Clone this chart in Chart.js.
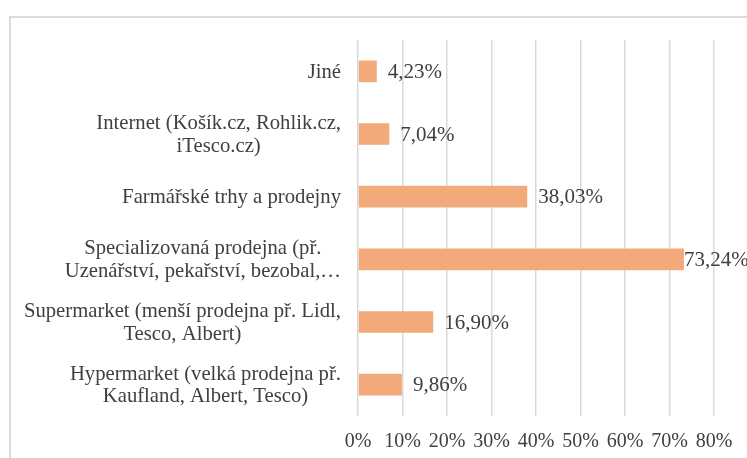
<!DOCTYPE html>
<html>
<head>
<meta charset="utf-8">
<script src="https://cdn.jsdelivr.net/npm/chart.js@4/dist/chart.umd.min.js"></script>
<style>
  html, body { margin: 0; padding: 0; background: #fff; overflow: hidden; }
  #frame { position: absolute; left: 9px; top: 16px; width: 800px; height: 500px; border: 2px solid #dcdcdc; }
  #wrap { position: absolute; left: 0; top: 0; width: 747px; height: 458px; }
</style>
</head>
<body>
<div id="frame"></div>
<div id="wrap"><canvas id="chart"></canvas></div>
<script>
var categories = [
  'Jiné',
  ['Internet (Košík.cz, Rohlik.cz,', 'iTesco.cz)'],
  'Farmářské trhy a prodejny',
  ['Specializovaná prodejna (př.', 'Uzenářství, pekařství, bezobal,…'],
  ['Supermarket (menší prodejna př. Lidl,', 'Tesco, Albert)'],
  ['Hypermarket (velká prodejna př.', 'Kaufland, Albert, Tesco)']
];
var values = [4.23, 7.04, 38.03, 73.24, 16.90, 9.86];
var xTicks = [0, 10, 20, 30, 40, 50, 60, 70, 80];

var serif = '"Liberation Serif", "Times New Roman", serif';

// value labels at the end of each bar + category labels (lines centred, block right aligned like excel)
var barLabels = {
  id: 'barLabels',
  afterDatasetsDraw: function (chart) {
    var ctx = chart.ctx;
    var meta = chart.getDatasetMeta(0);
    var yScale = chart.scales.y;
    ctx.save();
    ctx.font = '21px ' + serif;
    ctx.fillStyle = '#404040';
    ctx.textBaseline = 'middle';
    ctx.textAlign = 'left';
    meta.data.forEach(function (bar, i) {
      var txt = values[i].toFixed(2).replace('.', ',') + '%';
      var x = Math.min(bar.x + 11, chart.chartArea.right - 30);
      ctx.fillText(txt, x, bar.y + 1);
    });

    ctx.font = '20.7px ' + serif;
    ctx.textAlign = 'center';
    var right = chart.chartArea.left - 17;
    var lh = 22.7;
    categories.forEach(function (lab, i) {
      var lines = Array.isArray(lab) ? lab : [lab];
      var w = Math.max.apply(null, lines.map(function (l) { return ctx.measureText(l).width; }));
      var cx = right - w / 2;
      var cy = yScale.getPixelForTick(i);
      lines.forEach(function (l, j) {
        ctx.fillText(l, cx, cy + (j - (lines.length - 1) / 2) * lh + 1);
      });
    });
    ctx.restore();
  }
};

new Chart(document.getElementById('chart').getContext('2d'), {
  type: 'bar',
  data: {
    labels: categories,
    datasets: [{
      data: values,
      backgroundColor: '#f2aa7a',
      barPercentage: 0.345,
      categoryPercentage: 1
    }]
  },
  options: {
    indexAxis: 'y',
    responsive: true,
    maintainAspectRatio: false,
    animation: false,
    layout: { padding: { top: 40, right: 33, bottom: 0, left: 0 } },
    plugins: {
      legend: { display: false },
      tooltip: { enabled: false }
    },
    scales: {
      x: {
        min: 0,
        max: 80,
        afterBuildTicks: function (scale) {
          scale.ticks = xTicks.map(function (v) { return { value: v }; });
        },
        afterFit: function (scale) { scale.height = 42; },
        grid: { color: '#d9d9d9', lineWidth: 1.5, drawTicks: false },
        border: { display: false },
        ticks: {
          padding: 14,
          maxRotation: 0,
          color: '#404040',
          font: { family: serif, size: 20 },
          callback: function (v) { return v + '%'; }
        }
      },
      y: {
        grid: { display: false, drawTicks: false },
        border: { display: false },
        afterFit: function (scale) { scale.width = 358; },
        ticks: { display: false }
      }
    }
  },
  plugins: [barLabels]
});
</script>
</body>
</html>
